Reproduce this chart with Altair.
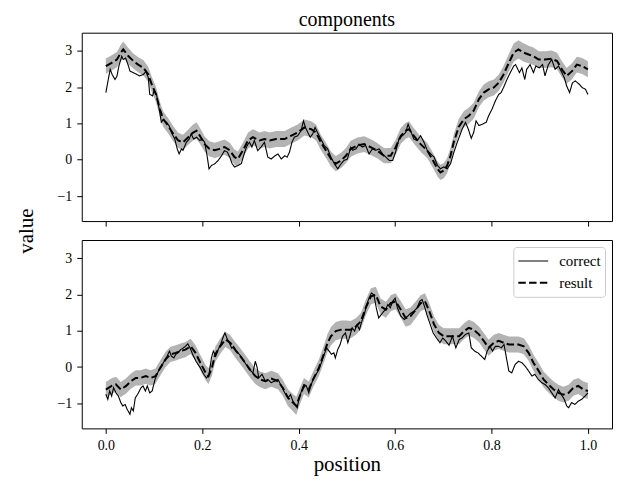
import altair as alt
import pandas as pd

# ---------------- data ----------------
# (position, value) pairs
top_correct = [
    (0.000, 1.85), (0.005, 2.21), (0.009, 2.49), (0.013, 2.35), (0.019, 2.21), (0.023, 2.30),
    (0.027, 2.58), (0.033, 2.85), (0.036, 2.76), (0.041, 2.80), (0.047, 2.58), (0.050, 2.44),
    (0.057, 2.40), (0.064, 2.35), (0.070, 2.31), (0.078, 2.35), (0.083, 2.44), (0.088, 2.26),
    (0.091, 1.80), (0.097, 1.76), (0.100, 1.90), (0.105, 1.80), (0.112, 1.30), (0.115, 1.03),
    (0.119, 1.10), (0.126, 1.03), (0.131, 0.94), (0.136, 0.75), (0.143, 0.57), (0.148, 0.30),
    (0.152, 0.16), (0.157, 0.30), (0.160, 0.26), (0.167, 0.48), (0.173, 0.57), (0.177, 0.71),
    (0.182, 0.57), (0.188, 0.62), (0.195, 0.53), (0.200, 0.57), (0.205, 0.48), (0.210, 0.11),
    (0.214, -0.25), (0.219, -0.16), (0.226, -0.11), (0.233, -0.02), (0.240, 0.11), (0.246, 0.25),
    (0.252, 0.21), (0.257, 0.07), (0.262, -0.11), (0.267, -0.20), (0.274, -0.16), (0.281, -0.11),
    (0.288, 0.21), (0.293, 0.39), (0.298, 0.48), (0.303, 0.35), (0.308, 0.53), (0.315, 0.25),
    (0.322, 0.35), (0.329, 0.48), (0.336, 0.07), (0.343, 0.02), (0.350, 0.10), (0.357, 0.16),
    (0.364, 0.02), (0.371, 0.11), (0.376, 0.07), (0.381, 0.21), (0.386, 0.48), (0.391, 0.62),
    (0.398, 0.66), (0.405, 0.80), (0.410, 1.07), (0.414, 0.89), (0.419, 0.75), (0.424, 0.62),
    (0.429, 0.71), (0.434, 0.89), (0.439, 0.75), (0.446, 0.57), (0.453, 0.39), (0.460, 0.30),
    (0.467, 0.07), (0.474, -0.11), (0.481, -0.25), (0.488, -0.11), (0.494, -0.02), (0.501, 0.02),
    (0.508, 0.34), (0.512, 0.26), (0.519, 0.30), (0.525, 0.43), (0.532, 0.35), (0.539, 0.39),
    (0.546, 0.16), (0.553, 0.30), (0.560, 0.26), (0.567, 0.30), (0.574, 0.16), (0.581, 0.07),
    (0.588, -0.02), (0.595, -0.02), (0.601, 0.21), (0.608, 0.57), (0.615, 0.66), (0.622, 0.75),
    (0.627, 0.98), (0.632, 0.80), (0.639, 0.57), (0.646, 0.53), (0.653, 0.66), (0.660, 0.48),
    (0.667, 0.25), (0.674, 0.16), (0.681, 0.07), (0.688, -0.16), (0.694, -0.25), (0.701, -0.20),
    (0.708, -0.25), (0.715, -0.11), (0.722, 0.21), (0.729, 0.48), (0.739, 0.84), (0.746, 1.03),
    (0.752, 0.84), (0.758, 0.59), (0.763, 0.75), (0.768, 1.07), (0.774, 0.94), (0.781, 0.98),
    (0.789, 1.03), (0.794, 1.21), (0.801, 1.39), (0.808, 1.62), (0.815, 1.80), (0.820, 1.85),
    (0.825, 1.99), (0.832, 2.21), (0.839, 2.40), (0.846, 2.58), (0.850, 2.62), (0.858, 2.40),
    (0.863, 2.53), (0.869, 2.21), (0.873, 2.49), (0.880, 2.62), (0.887, 2.40), (0.892, 2.58),
    (0.899, 2.53), (0.906, 2.62), (0.911, 2.31), (0.918, 2.62), (0.925, 2.76), (0.932, 2.49),
    (0.939, 2.58), (0.946, 2.40), (0.951, 2.26), (0.956, 2.03), (0.962, 1.85), (0.968, 2.12),
    (0.974, 2.17), (0.982, 2.08), (0.988, 1.99), (0.995, 1.94), (1.000, 1.80),
]

# (position, value, band half-width)
top_result = [
    (0.000, 2.58, 0.21), (0.012, 2.67, 0.21), (0.023, 2.76, 0.21), (0.031, 2.95, 0.22),
    (0.036, 3.04, 0.22), (0.047, 2.85, 0.22), (0.057, 2.72, 0.21), (0.067, 2.62, 0.21),
    (0.078, 2.53, 0.21), (0.088, 2.35, 0.21), (0.095, 2.08, 0.21), (0.104, 1.80, 0.21),
    (0.112, 1.39, 0.21), (0.119, 1.12, 0.21), (0.129, 0.94, 0.21), (0.140, 0.71, 0.21),
    (0.150, 0.53, 0.21), (0.160, 0.48, 0.21), (0.171, 0.62, 0.21), (0.181, 0.75, 0.22),
    (0.188, 0.80, 0.23), (0.195, 0.66, 0.22), (0.205, 0.43, 0.21), (0.215, 0.30, 0.21),
    (0.226, 0.26, 0.21), (0.236, 0.30, 0.21), (0.246, 0.35, 0.21), (0.257, 0.26, 0.21),
    (0.267, 0.07, 0.21), (0.274, 0.02, 0.21), (0.284, 0.25, 0.21), (0.295, 0.53, 0.22),
    (0.305, 0.62, 0.22), (0.319, 0.53, 0.22), (0.329, 0.57, 0.22), (0.340, 0.53, 0.22),
    (0.353, 0.57, 0.22), (0.371, 0.57, 0.22), (0.384, 0.66, 0.22), (0.398, 0.75, 0.22),
    (0.412, 0.89, 0.22), (0.426, 0.84, 0.22), (0.436, 0.75, 0.22), (0.446, 0.48, 0.21),
    (0.457, 0.25, 0.21), (0.467, 0.02, 0.21), (0.477, -0.11, 0.21), (0.488, -0.02, 0.21),
    (0.498, 0.11, 0.21), (0.508, 0.30, 0.22), (0.522, 0.39, 0.22), (0.536, 0.43, 0.22),
    (0.549, 0.35, 0.22), (0.563, 0.25, 0.21), (0.577, 0.11, 0.21), (0.591, 0.11, 0.21),
    (0.601, 0.34, 0.21), (0.612, 0.66, 0.22), (0.622, 0.80, 0.22), (0.629, 0.84, 0.22),
    (0.639, 0.66, 0.21), (0.653, 0.43, 0.21), (0.667, 0.25, 0.21), (0.677, 0.02, 0.21),
    (0.688, -0.25, 0.21), (0.694, -0.35, 0.21), (0.701, -0.30, 0.21), (0.708, -0.16, 0.21),
    (0.715, 0.11, 0.21), (0.722, 0.50, 0.21), (0.732, 0.90, 0.22), (0.743, 1.12, 0.22),
    (0.753, 1.21, 0.22), (0.763, 1.35, 0.22), (0.774, 1.67, 0.22), (0.784, 1.85, 0.22),
    (0.794, 1.94, 0.22), (0.805, 1.99, 0.22), (0.815, 2.12, 0.22), (0.825, 2.35, 0.23),
    (0.836, 2.67, 0.24), (0.846, 2.95, 0.25), (0.856, 3.04, 0.25), (0.867, 2.95, 0.25),
    (0.877, 2.90, 0.24), (0.887, 2.85, 0.24), (0.898, 2.76, 0.23), (0.911, 2.76, 0.23),
    (0.925, 2.78, 0.23), (0.936, 2.72, 0.23), (0.946, 2.49, 0.22), (0.956, 2.31, 0.22),
    (0.967, 2.44, 0.22), (0.977, 2.62, 0.22), (0.988, 2.58, 0.22), (1.000, 2.49, 0.22),
]

bottom_correct = [
    (0.000, -0.75), (0.004, -0.89), (0.008, -0.66), (0.012, -0.80), (0.016, -0.57), (0.021, -0.71),
    (0.026, -0.80), (0.031, -0.98), (0.035, -1.07), (0.040, -1.03), (0.044, -1.16), (0.050, -1.30),
    (0.053, -1.12), (0.057, -1.21), (0.061, -0.85), (0.066, -0.75), (0.073, -0.57), (0.077, -0.52),
    (0.082, -0.66), (0.086, -0.52), (0.091, -0.71), (0.096, -0.66), (0.102, -0.34), (0.109, -0.11),
    (0.114, -0.02), (0.121, 0.16), (0.127, 0.30), (0.132, 0.44), (0.136, 0.30), (0.141, 0.25),
    (0.145, 0.35), (0.150, 0.39), (0.155, 0.48), (0.160, 0.52), (0.165, 0.57), (0.170, 0.64),
    (0.175, 0.52), (0.180, 0.35), (0.187, 0.16), (0.196, -0.02), (0.203, -0.20), (0.209, -0.30),
    (0.214, -0.20), (0.219, 0.25), (0.223, 0.44), (0.228, 0.30), (0.233, 0.48), (0.238, 0.62),
    (0.244, 0.85), (0.247, 0.94), (0.251, 0.80), (0.256, 0.67), (0.261, 0.52), (0.265, 0.57),
    (0.270, 0.44), (0.277, 0.35), (0.284, 0.21), (0.291, 0.07), (0.298, -0.07), (0.305, -0.16),
    (0.310, 0.16), (0.314, -0.02), (0.317, -0.30), (0.324, -0.20), (0.331, -0.39), (0.336, -0.34),
    (0.343, -0.43), (0.350, -0.39), (0.357, -0.34), (0.364, -0.52), (0.371, -0.71), (0.378, -0.85),
    (0.383, -0.76), (0.388, -0.94), (0.393, -1.03), (0.397, -1.12), (0.401, -0.85), (0.406, -0.66),
    (0.411, -0.48), (0.416, -0.52), (0.421, -0.71), (0.425, -0.52), (0.430, -0.34), (0.436, -0.20),
    (0.442, -0.07), (0.447, 0.12), (0.453, 0.35), (0.458, 0.53), (0.463, 0.44), (0.468, 0.35),
    (0.473, 0.39), (0.476, 0.25), (0.481, 0.48), (0.486, 0.62), (0.491, 0.85), (0.497, 0.94),
    (0.502, 0.67), (0.506, 0.85), (0.511, 1.08), (0.516, 0.99), (0.521, 1.17), (0.526, 1.03),
    (0.531, 1.26), (0.536, 1.44), (0.541, 1.72), (0.546, 1.90), (0.551, 2.04), (0.556, 1.99),
    (0.561, 1.63), (0.566, 1.35), (0.571, 1.44), (0.577, 1.54), (0.580, 1.58), (0.585, 1.72),
    (0.590, 1.63), (0.595, 1.81), (0.600, 1.90), (0.605, 1.63), (0.612, 1.40), (0.619, 1.31),
    (0.626, 1.40), (0.633, 1.49), (0.639, 1.54), (0.646, 1.63), (0.651, 1.81), (0.656, 1.86),
    (0.661, 1.67), (0.666, 1.44), (0.673, 1.17), (0.679, 0.94), (0.686, 0.80), (0.693, 0.67),
    (0.699, 0.80), (0.705, 0.72), (0.712, 0.60), (0.719, 0.85), (0.726, 0.53), (0.733, 0.76),
    (0.739, 0.80), (0.746, 0.90), (0.753, 0.94), (0.758, 0.53), (0.765, 0.44), (0.772, 0.39),
    (0.779, 0.30), (0.786, 0.21), (0.791, 0.44), (0.797, 0.57), (0.802, 0.44), (0.808, 0.57),
    (0.815, 0.57), (0.820, 0.53), (0.826, 0.62), (0.831, 0.25), (0.836, -0.11), (0.842, -0.16),
    (0.849, 0.07), (0.856, 0.16), (0.863, 0.12), (0.870, 0.02), (0.877, -0.11), (0.884, -0.25),
    (0.890, -0.20), (0.897, -0.34), (0.904, -0.43), (0.911, -0.48), (0.918, -0.57), (0.925, -0.71),
    (0.932, -0.85), (0.939, -0.62), (0.945, -0.76), (0.951, -0.89), (0.956, -1.07), (0.960, -1.12),
    (0.966, -0.98), (0.973, -1.03), (0.980, -0.94), (0.987, -0.89), (0.994, -0.80), (1.000, -0.71),
]

bottom_result = [
    (0.000, -0.62, 0.21), (0.012, -0.52, 0.21), (0.021, -0.48, 0.21), (0.031, -0.62, 0.21),
    (0.042, -0.52, 0.21), (0.052, -0.39, 0.21), (0.062, -0.30, 0.21), (0.072, -0.30, 0.21),
    (0.083, -0.25, 0.21), (0.093, -0.30, 0.21), (0.103, -0.25, 0.21), (0.113, -0.02, 0.21),
    (0.124, 0.21, 0.21), (0.134, 0.35, 0.21), (0.145, 0.39, 0.21), (0.155, 0.44, 0.21),
    (0.165, 0.48, 0.21), (0.176, 0.57, 0.21), (0.186, 0.39, 0.21), (0.196, 0.12, 0.21),
    (0.207, -0.16, 0.21), (0.213, -0.25, 0.22), (0.220, -0.02, 0.21), (0.227, 0.35, 0.21),
    (0.237, 0.57, 0.21), (0.248, 0.76, 0.21), (0.258, 0.67, 0.21), (0.268, 0.48, 0.22),
    (0.279, 0.30, 0.22), (0.289, 0.12, 0.22), (0.299, -0.07, 0.22), (0.310, -0.25, 0.22),
    (0.320, -0.34, 0.22), (0.331, -0.39, 0.22), (0.343, -0.32, 0.22), (0.357, -0.39, 0.22),
    (0.367, -0.57, 0.22), (0.378, -0.85, 0.23), (0.388, -0.98, 0.24), (0.395, -1.07, 0.25),
    (0.401, -0.85, 0.23), (0.411, -0.52, 0.22), (0.421, -0.62, 0.22), (0.430, -0.34, 0.22),
    (0.442, -0.02, 0.23), (0.453, 0.39, 0.24), (0.460, 0.67, 0.25), (0.467, 0.85, 0.25),
    (0.477, 0.99, 0.25), (0.488, 1.03, 0.25), (0.498, 1.03, 0.25), (0.508, 1.03, 0.24),
    (0.519, 1.12, 0.23), (0.529, 1.26, 0.22), (0.539, 1.63, 0.22), (0.550, 1.95, 0.22),
    (0.560, 1.99, 0.22), (0.570, 1.67, 0.22), (0.581, 1.58, 0.22), (0.591, 1.76, 0.22),
    (0.601, 1.81, 0.22), (0.612, 1.58, 0.23), (0.622, 1.35, 0.24), (0.632, 1.40, 0.24),
    (0.643, 1.58, 0.23), (0.653, 1.76, 0.22), (0.662, 1.81, 0.22), (0.671, 1.54, 0.22),
    (0.681, 1.17, 0.22), (0.691, 0.94, 0.22), (0.701, 0.85, 0.22), (0.712, 0.85, 0.22),
    (0.722, 0.85, 0.22), (0.733, 0.85, 0.22), (0.743, 0.99, 0.22), (0.753, 1.08, 0.22),
    (0.763, 1.03, 0.22), (0.774, 0.90, 0.22), (0.784, 0.72, 0.22), (0.794, 0.53, 0.22),
    (0.805, 0.67, 0.22), (0.815, 0.72, 0.22), (0.825, 0.67, 0.22), (0.836, 0.62, 0.22),
    (0.846, 0.62, 0.22), (0.856, 0.62, 0.22), (0.867, 0.57, 0.22), (0.877, 0.39, 0.22),
    (0.887, 0.12, 0.22), (0.898, -0.11, 0.22), (0.908, -0.34, 0.22), (0.918, -0.48, 0.22),
    (0.929, -0.62, 0.22), (0.939, -0.71, 0.22), (0.949, -0.76, 0.22), (0.960, -0.71, 0.22),
    (0.970, -0.57, 0.22), (0.980, -0.52, 0.22), (0.991, -0.62, 0.22), (1.000, -0.66, 0.22),
]

series_names = ["correct", "result"]
x_ticks = [0.0, 0.2, 0.4, 0.6, 0.8, 1.0]
y_ticks = [-1, 0, 1, 2, 3]
x_domain = [-0.05, 1.05]
y_domain = [-1.69, 3.5]

FONT = "Liberation Serif"

# ---------------- helpers ----------------
def line_frame(correct, result):
    a = pd.DataFrame(correct, columns=["x", "y"])
    a["series"] = "correct"
    b = pd.DataFrame([(r[0], r[1]) for r in result], columns=["x", "y"])
    b["series"] = "result"
    return pd.concat([a, b], ignore_index=True)


def band_frame(result):
    return pd.DataFrame(
        {"x": [r[0] for r in result],
         "lo": [r[1] - r[2] for r in result],
         "hi": [r[1] + r[2] for r in result]}
    )


xscale = alt.Scale(domain=x_domain, nice=False, zero=False)
yscale = alt.Scale(domain=y_domain, nice=False, zero=False)


def panel(correct, result, is_top):
    if is_top:
        xaxis = alt.Axis(values=x_ticks, labels=False, title=None)
        yaxis = alt.Axis(values=y_ticks, format="d", title="value",
                         titleX=-55, titleY=198.5, titleBaseline="middle",
                         titleAngle=270, titleFontSize=21)
        legend = None
    else:
        xaxis = alt.Axis(values=x_ticks, format=".1f", title="position",
                         titleFontSize=21, titlePadding=1)
        yaxis = alt.Axis(values=y_ticks, format="d", title=None)
        legend = alt.Legend(
            title=None, orient="top-right", offset=7, padding=4,
            fillColor="white", strokeColor="#cccccc", cornerRadius=3,
            symbolType="stroke", symbolSize=900, clipHeight=20, rowPadding=2,
            labelOffset=10, labelFontSize=15, symbolStrokeColor="black",
        )

    band = alt.Chart(band_frame(result)).mark_area(color="#b3b3b3", opacity=1).encode(
        x=alt.X("x:Q", scale=xscale, axis=xaxis),
        y=alt.Y("lo:Q", scale=yscale, axis=yaxis),
        y2="hi:Q",
    )
    lines = alt.Chart(line_frame(correct, result)).mark_line(color="black").encode(
        x=alt.X("x:Q", scale=xscale),
        y=alt.Y("y:Q", scale=yscale),
        strokeDash=alt.StrokeDash(
            "series:N",
            scale=alt.Scale(domain=series_names, range=[[1, 0], [7.5, 3.3]]),
            legend=legend,
        ),
        strokeWidth=alt.StrokeWidth(
            "series:N",
            scale=alt.Scale(type="ordinal", domain=series_names, range=[1.1, 2.0]),
            legend=legend,
        ),
    )
    return alt.layer(band, lines).properties(width=532, height=189)


top = panel(top_correct, top_result, True).properties(
    title=alt.TitleParams("components", fontSize=20, fontWeight="normal",
                          anchor="middle", frame="group", offset=3)
)
bottom = panel(bottom_correct, bottom_result, False)

chart = (
    alt.vconcat(top, bottom, spacing=19, bounds="flush")
    .resolve_scale(strokeDash="independent", strokeWidth="independent")
    .resolve_legend(strokeDash="independent", strokeWidth="independent")
    .properties(padding={"left": 7, "top": 0, "right": 1, "bottom": 0})
    .configure(font=FONT)
    .configure_view(stroke="black", strokeWidth=1)
    .configure_axis(
        domain=False, grid=False, labelFont=FONT, labelFontSize=14, labelColor="black",
        tickColor="black", tickSize=5, tickWidth=1, labelPadding=5,
        titleFont=FONT, titleFontWeight="normal", titleColor="black",
    )
    .configure_legend(labelFont=FONT, labelColor="black")
)

chart.save("out.html", embed_options={"renderer": "svg", "actions": False})
